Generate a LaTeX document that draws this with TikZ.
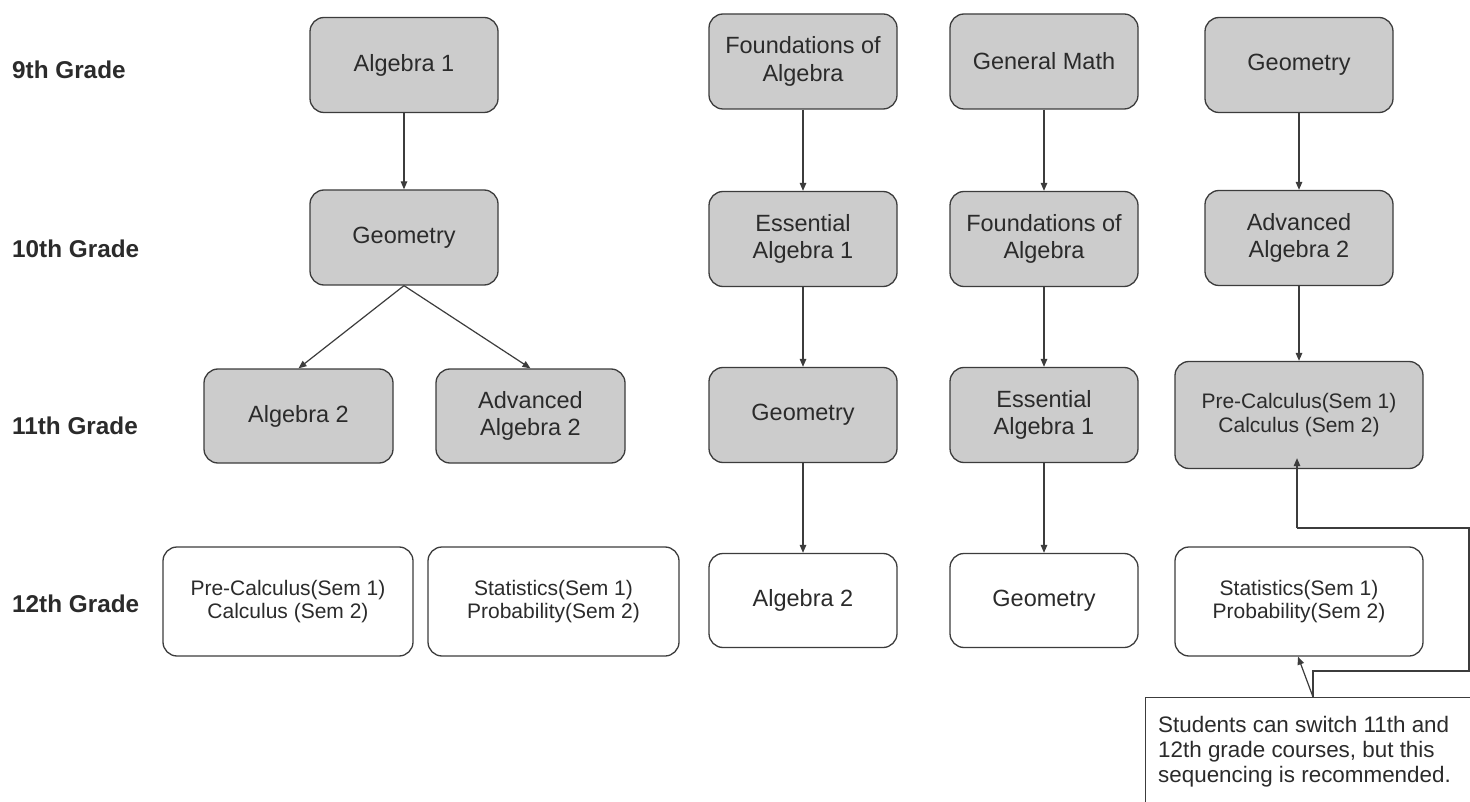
\documentclass[tikz,border=0pt]{standalone}
\usepackage{fontspec}
\setmainfont{Liberation Sans}
\usetikzlibrary{arrows.meta}
\definecolor{boxfill}{HTML}{CCCCCC}
\definecolor{edge}{HTML}{3C3C3C}
\definecolor{txt}{HTML}{2B2B2B}
\begin{document}
\begin{tikzpicture}[x=1pt,y=-1pt,
  course/.style={draw=edge, line width=1.3pt, rounded corners=14pt, fill=boxfill,
    minimum width=188pt, minimum height=95pt, align=center,
    font=\fontsize{23.5}{27.5}\selectfont, text=txt, inner sep=0pt},
  final/.style={course, fill=white},
  wide/.style={minimum width=250pt, minimum height=109pt, font=\fontsize{21}{23.5}\selectfont},
  grade/.style={anchor=west, font=\bfseries\fontsize{24.3}{28}\selectfont, text=txt, inner sep=0pt},
  arr/.style={draw=edge, line width=1.2pt, -{Triangle[length=8pt,width=6.5pt]}},
  link/.style={draw=edge, line width=1.2pt},
]
\useasboundingbox (0,0) rectangle (1470,802);
\clip (0,0) rectangle (1470,802);
\fill[white] (0,0) rectangle (1470,802);

% grade labels
\node[grade] (g9)  at (12,70)  {9th Grade};
\node[grade] (g10) at (12,249) {10th Grade};
\node[grade] (g11) at (12,426) {11th Grade};
\node[grade] (g12) at (12,604) {12th Grade};

% column 1
\node[course] (a1) at (404,65) {Algebra 1};
\node[course] (g1) at (404,237.5) {Geometry};
\node[course, minimum width=189pt, minimum height=94pt] (alg2a) at (298.5,416) {Algebra 2};
\node[course, minimum width=189pt, minimum height=94pt] (adv1) at (530.5,416) {Advanced\\Algebra 2};
\node[final, wide] (pc1) at (288,601.5) {Pre-Calculus(Sem 1)\\Calculus (Sem 2)};
\node[final, wide, minimum width=251pt] (st1) at (553.5,601.5) {Statistics(Sem 1)\\Probability(Sem 2)};

% column 2
\node[course] (fa2) at (803,61.5) {Foundations of\\Algebra};
\node[course] (ea2) at (803,239) {Essential\\Algebra 1};
\node[course] (ge2) at (803,415) {Geometry};
\node[final, minimum height=94pt] (al2) at (803,600.5) {Algebra 2};

% column 3
\node[course] (gm3) at (1044,61.5) {General Math};
\node[course] (fa3) at (1044,239) {Foundations of\\Algebra};
\node[course] (ea3) at (1044,415) {Essential\\Algebra 1};
\node[final, minimum height=94pt] (ge3) at (1044,600.5) {Geometry};

% column 4
\node[course] (ge4) at (1299,65) {Geometry};
\node[course] (ad4) at (1299,238) {Advanced\\Algebra 2};
\node[course, wide, minimum width=248pt, minimum height=107pt] (pc4) at (1299,415) {Pre-Calculus(Sem 1)\\Calculus (Sem 2)};
\node[final, wide, minimum width=248pt] (st4) at (1299,601.5) {Statistics(Sem 1)\\Probability(Sem 2)};

% arrows
\draw[arr] (a1) -- (g1);
\draw[arr] (g1.south) -- (alg2a.north);
\draw[arr] (g1.south) -- (adv1.north);
\draw[arr] (fa2) -- (ea2);
\draw[arr] (ea2) -- (ge2);
\draw[arr] (ge2) -- (al2);
\draw[arr] (gm3) -- (fa3);
\draw[arr] (fa3) -- (ea3);
\draw[arr] (ea3) -- (ge3);
\draw[arr] (ge4) -- (ad4);
\draw[arr] (ad4) -- (pc4);

% callout note
\node[draw=edge, line width=1.3pt, fill=white, minimum width=360pt, minimum height=140pt,
  anchor=north west, inner sep=0pt] (note) at (1145,697) {};
\node[anchor=north west, align=left, font=\fontsize{22.4}{25}\selectfont, text=txt, inner sep=0pt]
  (notetext) at (1158,716) {Students can switch 11th and\\12th grade courses, but this\\sequencing is recommended.};
\coordinate (ptr) at (1313,697);
\coordinate (c1) at (1313,671);
\coordinate (c2) at (1469,671);
\coordinate (c3) at (1469,528);
\coordinate (c4) at (1297,528);
\draw[arr] (ptr) -- ([xshift=-1pt]st4.south);
\draw[link] (ptr) -- (c1) -- (c2) -- (c3) -- (c4);
\draw[arr] (c4) -- ([xshift=-2pt,yshift=11pt]pc4.south);
\end{tikzpicture}
\end{document}
